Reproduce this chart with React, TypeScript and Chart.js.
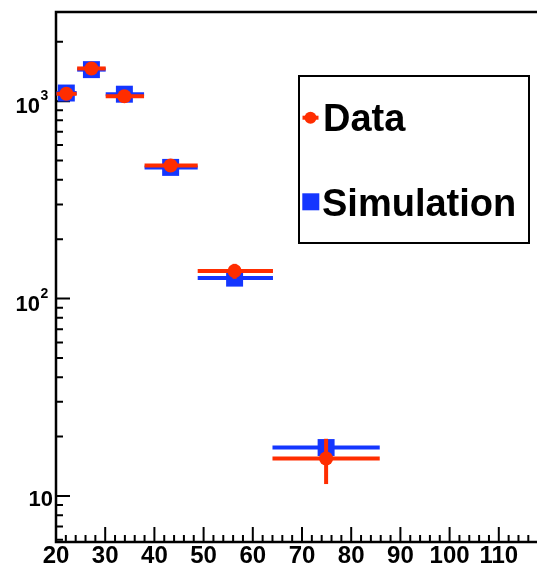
import React, { useEffect, useRef } from 'react';
import { Chart, registerables } from 'chart.js';

Chart.register(...registerables);

// ---- data ----
const binCenters = [22.1, 27.2, 33.9, 43.3, 56.3, 74.9];
const binLow = [20.1, 24.3, 30.1, 38.0, 48.8, 64.0];
const binHigh = [24.2, 30.1, 37.9, 48.8, 64.1, 85.8];
const dataValues = [1090, 1465, 1060, 472, 138, 15.5];
const dataErrors = [33, 38, 33, 22, 12, 4];
const simValues = [1100, 1445, 1085, 462, 127, 17.6];
const seriesLabels = ['Data', 'Simulation'];

// ---- axes ----
const xMin = 20;
const xMax = 120;
const yMin = 5.85;
const yMax = 2830;
const xMajorTicks = [20, 30, 40, 50, 60, 70, 80, 90, 100, 110];
const xMinorTicks = [22, 24, 26, 28, 32, 34, 36, 38, 42, 44, 46, 48, 52, 54, 56, 58, 62, 64, 66, 68, 72, 74, 76, 78, 82, 84, 86, 88, 92, 94, 96, 98, 102, 104, 106, 108, 112, 114, 116, 118];
const yMajorTicks = [10, 100, 1000];
const yTickExponents = ['', '2', '3'];
const yMinorTicks = [6, 7, 8, 9, 20, 30, 40, 50, 60, 70, 80, 90, 200, 300, 400, 500, 600, 700, 800, 900, 2000];

const RED = '#ff2d00';
const BLUE = '#1436ff';
const FONT = '"Liberation Sans", Arial, Helvetica, sans-serif';

const dataPoints = binCenters.map((x, i) => ({ x, y: dataValues[i], xl: binLow[i], xh: binHigh[i], ey: dataErrors[i] }));
const simPoints = binCenters.map((x, i) => ({ x, y: simValues[i], xl: binLow[i], xh: binHigh[i], ey: 0 }));

const errorBarPlugin = {
  id: 'errorBars',
  beforeDatasetDraw(chart: any, args: any) {
    const ds = chart.data.datasets[args.index];
    const xs = chart.scales.x;
    const ys = chart.scales.y;
    const ctx = chart.ctx;
    ctx.save();
    ctx.strokeStyle = ds.backgroundColor;
    ctx.lineWidth = 4;
    ctx.lineCap = 'butt';
    ds.data.forEach((p: any) => {
      const y = ys.getPixelForValue(p.y);
      ctx.beginPath();
      ctx.moveTo(xs.getPixelForValue(p.xl), y);
      ctx.lineTo(xs.getPixelForValue(p.xh), y);
      ctx.stroke();
      if (p.ey) {
        const x = xs.getPixelForValue(p.x);
        ctx.beginPath();
        ctx.moveTo(x, ys.getPixelForValue(p.y + p.ey));
        ctx.lineTo(x, ys.getPixelForValue(p.y - p.ey));
        ctx.stroke();
      }
    });
    ctx.restore();
  },
};

const framePlugin = {
  id: 'frame',
  beforeDatasetsDraw(chart: any) {
    const { ctx, chartArea: a } = chart;
    const xs = chart.scales.x;
    const ys = chart.scales.y;
    ctx.save();
    ctx.strokeStyle = '#000';
    ctx.lineWidth = 2.5;
    ctx.strokeRect(a.left, a.top, a.right - a.left, a.bottom - a.top);
    ctx.lineWidth = 2;
    ctx.beginPath();
    xMajorTicks.forEach((v) => {
      const x = xs.getPixelForValue(v);
      ctx.moveTo(x, a.bottom);
      ctx.lineTo(x, a.bottom - 15);
    });
    xMinorTicks.forEach((v) => {
      const x = xs.getPixelForValue(v);
      ctx.moveTo(x, a.bottom);
      ctx.lineTo(x, a.bottom - 7);
    });
    yMajorTicks.forEach((v) => {
      const y = ys.getPixelForValue(v);
      ctx.moveTo(a.left, y);
      ctx.lineTo(a.left + 14, y);
    });
    yMinorTicks.forEach((v) => {
      const y = ys.getPixelForValue(v);
      ctx.moveTo(a.left, y);
      ctx.lineTo(a.left + 7, y);
    });
    ctx.stroke();

    // y tick labels with superscript exponents
    ctx.fillStyle = '#000';
    ctx.textBaseline = 'alphabetic';
    yMajorTicks.forEach((v, i) => {
      const y = ys.getPixelForValue(v);
      const exp = yTickExponents[i];
      if (!exp) {
        ctx.font = `bold 22px ${FONT}`;
        ctx.textAlign = 'right';
        ctx.fillText('10', a.left - 3, y + 10);
      } else {
        ctx.font = `bold 22px ${FONT}`;
        ctx.textAlign = 'right';
        ctx.fillText('10', a.left - 16, y + 12);
        ctx.font = `bold 14px ${FONT}`;
        ctx.textAlign = 'left';
        ctx.fillText(exp, a.left - 15.5, y - 1);
      }
    });
    ctx.restore();
  },
};

const legendPlugin = {
  id: 'rootLegend',
  afterDraw(chart: any) {
    const ctx = chart.ctx;
    const ds = chart.data.datasets;
    ctx.save();
    ctx.fillStyle = '#fff';
    ctx.fillRect(299, 76, 230, 167);
    ctx.strokeStyle = '#000';
    ctx.lineWidth = 2;
    ctx.strokeRect(299, 76, 230, 167);
    // Data entry
    ctx.strokeStyle = ds[0].backgroundColor;
    ctx.lineWidth = 4;
    ctx.beginPath();
    ctx.moveTo(302.5, 117.7);
    ctx.lineTo(318.5, 117.7);
    ctx.stroke();
    ctx.fillStyle = ds[0].backgroundColor;
    ctx.beginPath();
    ctx.arc(310.5, 117.7, 6, 0, Math.PI * 2);
    ctx.fill();
    // Simulation entry
    ctx.fillStyle = ds[1].backgroundColor;
    ctx.fillRect(302.3, 193.3, 17, 17);
    ctx.fillStyle = '#000';
    ctx.font = `bold 38px ${FONT}`;
    ctx.textAlign = 'left';
    ctx.textBaseline = 'alphabetic';
    ctx.fillText(ds[0].label, 323, 131);
    ctx.fillText(ds[1].label, 322, 216);
    ctx.restore();
  },
};

export default function App() {
  const ref = useRef<HTMLCanvasElement>(null);
  useEffect(() => {
    const canvas = ref.current!;
    const chart = new Chart(canvas, {
      type: 'scatter',
      data: {
        datasets: [
          {
            label: seriesLabels[0],
            data: dataPoints,
            pointStyle: 'circle',
            pointRadius: 7,
            pointHoverRadius: 7,
            backgroundColor: RED,
            borderWidth: 0,
          } as any,
          {
            label: seriesLabels[1],
            data: simPoints,
            pointStyle: 'rect',
            pointRadius: 12,
            pointHoverRadius: 12,
            backgroundColor: BLUE,
            borderWidth: 0,
          } as any,
        ],
      },
      options: {
        animation: false,
        responsive: false,
        devicePixelRatio: 1,
        layout: { padding: { top: 10, right: 4, bottom: 0, left: 0 } },
        plugins: { legend: { display: false }, tooltip: { enabled: false } },
        scales: {
          x: {
            type: 'linear',
            min: xMin,
            max: xMax,
            afterBuildTicks: (s: any) => {
              s.ticks = xMajorTicks.map((v) => ({ value: v }));
            },
            afterFit: (s: any) => {
              s.height = 26;
              s.paddingLeft = 0;
              s.paddingRight = 0;
            },
            grid: { display: false, drawTicks: false },
            border: { display: false },
            ticks: {
              color: '#000',
              padding: 0,
              autoSkip: false,
              maxRotation: 0,
              font: { family: FONT, size: 24, weight: 'bold' },
            },
          },
          y: {
            type: 'logarithmic',
            min: yMin,
            max: yMax,
            afterBuildTicks: (s: any) => {
              s.ticks = yMajorTicks.map((v) => ({ value: v }));
            },
            afterFit: (s: any) => {
              s.width = 56;
              s.paddingTop = 0;
              s.paddingBottom = 0;
            },
            grid: { display: false, drawTicks: false },
            border: { display: false },
            ticks: { display: false },
          },
        },
      } as any,
      plugins: [framePlugin, errorBarPlugin, legendPlugin],
    });
    return () => chart.destroy();
  }, []);

  return (
    <div style={{ position: 'fixed', left: 0, top: 0, width: 537, height: 568, overflow: 'hidden', background: '#fff' }}>
      <canvas ref={ref} width={560} height={568} style={{ display: 'block' }} />
    </div>
  );
}
